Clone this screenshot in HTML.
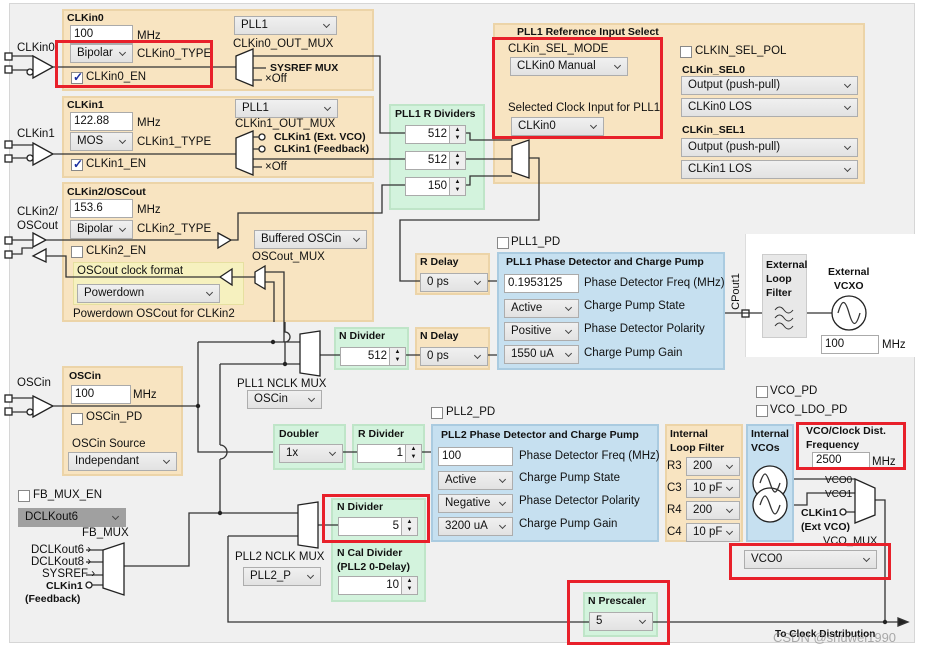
<!DOCTYPE html>
<html><head><meta charset="utf-8">
<style>
*{box-sizing:border-box;margin:0;padding:0}
body{width:937px;height:655px;background:#fff;position:relative;overflow:hidden;font-family:"Liberation Sans",Arial,sans-serif;font-size:11.5px;color:#111}
div,span{position:absolute}
.bg{left:9px;top:3px;width:906px;height:640px;background:#f0f0f0;border:1px solid #d6d6d6}
.p{background:#f8e4c1;border:2px solid #ecd4a8}
.g{background:#d3f3dd;border:2px solid #bfe5c8}
.b{background:#c6e0f0;border:2px solid #aacbe0}
.y{background:#f6f1bf;border:1px solid #e6e0a0}
.t{white-space:nowrap;line-height:13px}
.bo{font-weight:bold;font-size:10.5px}
.in{background:#fff;border:1px solid #aaa;height:19px;padding:1px 3px;line-height:15px;white-space:nowrap}
.dd{background:linear-gradient(#f0f0f0,#e2e2e2);border:1px solid #adadad;height:19px;padding:1px 6px;line-height:15px;white-space:nowrap;overflow:hidden}
.dd::after{content:"";position:absolute;right:7px;top:5px;width:4px;height:4px;border-right:1px solid #444;border-bottom:1px solid #444;transform:rotate(45deg)}
.sp{background:#fff;border:1px solid #aaa;height:19px;line-height:15px;text-align:right;padding:1px 18px 0 3px}
.sp::after{content:"▲\A▼";white-space:pre;position:absolute;right:0;top:0;width:15px;height:17px;border-left:1px solid #aaa;background:#eee;font-size:6px;line-height:8px;text-align:center}
.cb{width:12px;height:12px;background:#fff;border:1px solid #888}
.ck::after{content:"✓";position:absolute;left:1px;top:-3px;color:#1a2ea0;font-weight:bold;font-size:12px}
.red{border:3px solid #e8202a}
</style></head><body>
<div class="bg"></div>
<div style="left:745px;top:234px;width:170px;height:123px;background:#fff;border-left:1px solid #ddd"></div>

<div class="p" style="left:62px;top:9px;width:312px;height:82px"></div>
<div class="p" style="left:62px;top:96px;width:312px;height:82px"></div>
<div class="p" style="left:62px;top:182px;width:312px;height:140px"></div>
<div class="y" style="left:73px;top:262px;width:171px;height:43px"></div>
<div class="g" style="left:389px;top:104px;width:96px;height:106px"></div>
<div class="p" style="left:493px;top:23px;width:372px;height:161px"></div>
<div class="p" style="left:415px;top:253px;width:75px;height:42px"></div>
<div class="b" style="left:497px;top:252px;width:228px;height:118px"></div>
<div class="g" style="left:334px;top:327px;width:75px;height:43px"></div>
<div class="p" style="left:415px;top:327px;width:75px;height:43px"></div>
<div style="left:762px;top:254px;width:45px;height:84px;background:#e8e8e8;border:1px solid #ccc"></div>
<div class="p" style="left:62px;top:366px;width:121px;height:110px"></div>
<div class="g" style="left:273px;top:424px;width:73px;height:46px"></div>
<div class="g" style="left:352px;top:424px;width:73px;height:46px"></div>
<div class="b" style="left:431px;top:424px;width:228px;height:118px"></div>
<div class="p" style="left:665px;top:424px;width:78px;height:118px"></div>
<div class="b" style="left:746px;top:424px;width:48px;height:118px"></div>
<div class="g" style="left:331px;top:498px;width:95px;height:104px"></div>
<div class="g" style="left:583px;top:592px;width:75px;height:45px"></div>

<svg width="937" height="655" style="position:absolute;left:0;top:0" fill="none" stroke="#333" stroke-width="1.3">
<g fill="#fff" stroke="#222">
<rect x="5" y="53" width="7" height="7"/><rect x="5" y="66" width="7" height="7"/>
<rect x="5" y="141" width="7" height="7"/><rect x="5" y="155" width="7" height="7"/>
<rect x="5" y="237" width="7" height="7"/><rect x="5" y="251" width="7" height="7"/>
<rect x="5" y="395" width="7" height="7"/><rect x="5" y="408" width="7" height="7"/>
<rect x="742" y="310" width="7" height="7"/>
</g>
<path d="M12 56H33M12 70H28M12 145H33M12 158H28M12 240H33M12 254H22V248H33M12 398H33M12 412H28"/>
<g fill="#fff" stroke="#222">
<path d="M33 56L53 67L33 78Z"/><circle cx="30" cy="72" r="3"/>
<path d="M33 143L53 154L33 165Z"/><circle cx="30" cy="158" r="3"/>
<path d="M33 233L46 240L33 247Z"/><path d="M46 249L33 256L46 262Z"/>
<path d="M33 396L53 406L33 417Z"/><circle cx="30" cy="412" r="3"/>
<path d="M218 233L231 240L218 248Z"/><path d="M232 269L220 277L232 285Z"/>
</g>
<path d="M53 67H236M253 56H380V133H405M53 154H236M253 159H405M46 240H218M231 240H238V213H382V185H405M46 256H66V277H220M232 277H255M265 272H284V342M265 282H274V322"/>
<path d="M461 133H470V140H512M461 159H512M461 185H470V176H512M529 158H539V220H400V281H420M488 281H497"/>
<path d="M725 313H762M807 313H832"/>
<path d="M320 355H340M406 355H420M488 355H497"/>
<path d="M53 406H198M198 342V452H273M198 342H300M220 364H300M220 364V445M220 459V513M343 452H357M422 452H431"/>
<path d="M220 445A7 7 0 0 1 220 459"/>
<path d="M285 322V332A5 5 0 0 1 285 342V364"/>
<path d="M124 566H189V513H300M318 525H338M228 536H298M228 536V622H905M875 500H885V622M794 479H855M794 505H807V493H855M846 512H855"/>
<path d="M86 550H103M86 562H103M86 575H103M92 585H103"/>
<path d="M898 618L908 622L898 626Z" fill="#222"/>
<g fill="#222" stroke="none"><circle cx="198" cy="406" r="2.2"/><circle cx="273" cy="342" r="2.2"/><circle cx="285" cy="364" r="2.2"/><circle cx="220" cy="513" r="2.2"/><circle cx="885" cy="622" r="2.2"/></g>
<g fill="#fff" stroke="#222">
<path d="M236 56L253 49V86L236 79Z"/>
<path d="M236 138L253 131V175L236 168Z"/>
<path d="M255 272L265 266V289L255 283Z"/>
<path d="M512 146L529 140V178L512 172Z"/>
<path d="M300 334L320 331V376L300 373Z"/>
<path d="M103 550L124 543V595L103 588Z"/>
<path d="M298 505L318 502V548L298 545Z"/>
<path d="M855 479L875 488V515L855 523Z"/>
<circle cx="849" cy="313" r="17"/>
<circle cx="770" cy="483" r="17"/><circle cx="770" cy="505" r="17"/>
<circle cx="262" cy="137" r="3"/><circle cx="262" cy="149" r="3"/><circle cx="89" cy="585" r="3"/><circle cx="843" cy="512" r="3"/>
</g>
<path d="M253 68H266M253 80H262M253 137H259M253 149H259M253 167H262"/>
<path d="M838 313c4-14 7-14 11 0s7 14 11 0M760 483c4-12 6-12 10 0s6 12 10 0M760 505c4-12 6-12 10 0s6 12 10 0"/>
<path d="M775 310c3-4 6-4 9 0s6 4 9 0M775 318c3-4 6-4 9 0s6 4 9 0M775 326c3-4 6-4 9 0s6 4 9 0" stroke-width="1"/>
</svg>

<span class="t" style="left:17px;top:42px">CLKin0</span>
<span class="t bo" style="left:67px;top:12px">CLKin0</span>
<div class="in" style="left:70px;top:25px;width:63px">100</div><span class="t" style="left:137px;top:30px">MHz</span>
<div class="dd" style="left:70px;top:44px;width:63px">Bipolar</div><span class="t" style="left:137px;top:48px">CLKin0_TYPE</span>
<div class="cb ck" style="left:71px;top:72px"></div><span class="t" style="left:86px;top:71px">CLKin0_EN</span>
<div class="dd" style="left:234px;top:16px;width:103px">PLL1</div><span class="t" style="left:233px;top:38px">CLKin0_OUT_MUX</span>
<span class="t bo" style="left:270px;top:62px">SYSREF MUX</span><span class="t" style="left:265px;top:73px">×Off</span>
<span class="t" style="left:17px;top:128px">CLKin1</span>
<span class="t bo" style="left:67px;top:99px">CLKin1</span>
<div class="in" style="left:70px;top:112px;width:63px">122.88</div><span class="t" style="left:137px;top:117px">MHz</span>
<div class="dd" style="left:70px;top:132px;width:63px">MOS</div><span class="t" style="left:137px;top:136px">CLKin1_TYPE</span>
<div class="cb ck" style="left:71px;top:159px"></div><span class="t" style="left:86px;top:158px">CLKin1_EN</span>
<div class="dd" style="left:235px;top:99px;width:103px">PLL1</div><span class="t" style="left:235px;top:118px">CLKin1_OUT_MUX</span>
<span class="t bo" style="left:274px;top:131px">CLKin1 (Ext. VCO)</span><span class="t bo" style="left:274px;top:143px">CLKin1 (Feedback)</span><span class="t" style="left:265px;top:161px">×Off</span>
<span class="t" style="left:17px;top:206px">CLKin2/</span><span class="t" style="left:17px;top:220px">OSCout</span>
<span class="t bo" style="left:67px;top:186px">CLKin2/OSCout</span>
<div class="in" style="left:70px;top:199px;width:63px">153.6</div><span class="t" style="left:137px;top:204px">MHz</span>
<div class="dd" style="left:70px;top:220px;width:63px">Bipolar</div><span class="t" style="left:137px;top:223px">CLKin2_TYPE</span>
<div class="cb" style="left:71px;top:246px"></div><span class="t" style="left:86px;top:245px">CLKin2_EN</span>
<div class="dd" style="left:254px;top:230px;width:113px">Buffered OSCin</div><span class="t" style="left:252px;top:251px">OSCout_MUX</span>
<span class="t" style="left:77px;top:265px">OSCout clock format</span>
<div class="dd" style="left:77px;top:284px;width:143px">Powerdown</div>
<span class="t" style="left:73px;top:308px">Powerdown OSCout for CLKin2</span>
<span class="t bo" style="left:395px;top:108px">PLL1 R Dividers</span>
<div class="sp" style="left:405px;top:125px;width:61px">512</div>
<div class="sp" style="left:405px;top:151px;width:61px">512</div>
<div class="sp" style="left:405px;top:177px;width:61px">150</div>
<span class="t bo" style="left:517px;top:26px">PLL1 Reference Input Select</span>
<span class="t" style="left:508px;top:43px">CLKin_SEL_MODE</span>
<div class="dd" style="left:510px;top:57px;width:118px">CLKin0 Manual</div>
<span class="t" style="left:508px;top:102px">Selected Clock Input for PLL1</span>
<div class="dd" style="left:511px;top:117px;width:93px">CLKin0</div>
<div class="cb" style="left:680px;top:46px"></div><span class="t" style="left:695px;top:45px">CLKIN_SEL_POL</span>
<span class="t bo" style="left:682px;top:64px">CLKin_SEL0</span>
<div class="dd" style="left:681px;top:76px;width:177px">Output (push-pull)</div>
<div class="dd" style="left:681px;top:98px;width:177px">CLKin0 LOS</div>
<span class="t bo" style="left:682px;top:124px">CLKin_SEL1</span>
<div class="dd" style="left:681px;top:138px;width:177px">Output (push-pull)</div>
<div class="dd" style="left:681px;top:160px;width:177px">CLKin1 LOS</div>
<span class="t bo" style="left:420px;top:256px">R Delay</span>
<div class="dd" style="left:420px;top:273px;width:68px">0 ps</div>
<div class="cb" style="left:497px;top:237px"></div><span class="t" style="left:511px;top:236px">PLL1_PD</span>
<span class="t bo" style="left:506px;top:256px">PLL1 Phase Detector and Charge Pump</span>
<div class="in" style="left:504px;top:274px;width:75px">0.1953125</div>
<span class="t" style="left:584px;top:277px">Phase Detector Freq (MHz)</span>
<div class="dd" style="left:504px;top:299px;width:75px">Active</div><span class="t" style="left:584px;top:300px">Charge Pump State</span>
<div class="dd" style="left:504px;top:322px;width:75px">Positive</div><span class="t" style="left:584px;top:323px">Phase Detector Polarity</span>
<div class="dd" style="left:504px;top:345px;width:75px">1550 uA</div><span class="t" style="left:584px;top:347px">Charge Pump Gain</span>
<span class="t" style="left:718px;top:285px;transform:rotate(-90deg);font-size:11px">CPout1</span>
<span class="t bo" style="left:766px;top:258px;line-height:14px">External<br>Loop<br>Filter</span>
<span class="t bo" style="left:828px;top:265px;line-height:14px;text-align:center">External<br>VCXO</span>
<div class="in" style="left:821px;top:335px;width:58px">100</div><span class="t" style="left:882px;top:339px">MHz</span>
<span class="t bo" style="left:339px;top:330px">N Divider</span>
<div class="sp" style="left:340px;top:347px;width:66px">512</div>
<span class="t bo" style="left:420px;top:330px">N Delay</span>
<div class="dd" style="left:420px;top:347px;width:68px">0 ps</div>
<span class="t" style="left:237px;top:378px">PLL1 NCLK MUX</span>
<div class="dd" style="left:247px;top:390px;width:75px">OSCin</div>
<span class="t" style="left:17px;top:377px">OSCin</span>
<span class="t bo" style="left:69px;top:370px">OSCin</span>
<div class="in" style="left:71px;top:385px;width:60px">100</div><span class="t" style="left:133px;top:389px">MHz</span>
<div class="cb" style="left:71px;top:413px"></div><span class="t" style="left:86px;top:411px">OSCin_PD</span>
<span class="t" style="left:72px;top:438px">OSCin Source</span>
<div class="dd" style="left:68px;top:452px;width:109px">Independant</div>
<div class="cb" style="left:18px;top:490px"></div><span class="t" style="left:33px;top:489px">FB_MUX_EN</span>
<div class="dd" style="left:18px;top:508px;width:108px;background:#a0a0a0;border-color:#a0a0a0">DCLKout6</div>
<span class="t" style="left:82px;top:527px">FB_MUX</span>
<span class="t" style="left:31px;top:544px">DCLKout6 ›</span>
<span class="t" style="left:31px;top:556px">DCLKout8 ›</span>
<span class="t" style="left:42px;top:568px">SYSREF ›</span>
<span class="t bo" style="left:46px;top:580px">CLKin1</span>
<span class="t bo" style="left:25px;top:593px">(Feedback)</span>
<span class="t bo" style="left:279px;top:428px">Doubler</span>
<div class="dd" style="left:279px;top:444px;width:64px">1x</div>
<span class="t bo" style="left:358px;top:428px">R Divider</span>
<div class="sp" style="left:357px;top:444px;width:65px">1</div>
<div class="cb" style="left:431px;top:407px"></div><span class="t" style="left:446px;top:406px">PLL2_PD</span>
<span class="t bo" style="left:441px;top:429px">PLL2 Phase Detector and Charge Pump</span>
<div class="in" style="left:438px;top:447px;width:75px">100</div><span class="t" style="left:519px;top:450px">Phase Detector Freq (MHz)</span>
<div class="dd" style="left:438px;top:471px;width:75px">Active</div><span class="t" style="left:519px;top:472px">Charge Pump State</span>
<div class="dd" style="left:438px;top:494px;width:75px">Negative</div><span class="t" style="left:519px;top:495px">Phase Detector Polarity</span>
<div class="dd" style="left:438px;top:517px;width:75px">3200 uA</div><span class="t" style="left:519px;top:518px">Charge Pump Gain</span>
<span class="t bo" style="left:670px;top:427px;line-height:14px">Internal<br>Loop Filter</span>
<span class="t" style="left:667px;top:460px">R3</span><div class="dd" style="left:686px;top:457px;width:54px">200</div>
<span class="t" style="left:667px;top:482px">C3</span><div class="dd" style="left:686px;top:479px;width:54px">10 pF</div>
<span class="t" style="left:667px;top:504px">R4</span><div class="dd" style="left:686px;top:501px;width:54px">200</div>
<span class="t" style="left:667px;top:526px">C4</span><div class="dd" style="left:686px;top:523px;width:54px">10 pF</div>
<span class="t bo" style="left:751px;top:427px;line-height:14px">Internal<br>VCOs</span>
<div class="cb" style="left:756px;top:386px"></div><span class="t" style="left:770px;top:385px">VCO_PD</span>
<div class="cb" style="left:756px;top:405px"></div><span class="t" style="left:770px;top:404px">VCO_LDO_PD</span>
<span class="t bo" style="left:806px;top:424px;line-height:14px">VCO/Clock Dist.<br>Frequency</span>
<div class="in" style="left:812px;top:452px;width:58px;height:17px;line-height:13px">2500</div><span class="t" style="left:872px;top:456px">MHz</span>
<span class="t" style="left:825px;top:474px;font-size:10px">VCO0</span>
<span class="t" style="left:825px;top:488px;font-size:10px">VCO1</span>
<span class="t bo" style="left:801px;top:507px">CLKin1</span>
<span class="t bo" style="left:801px;top:521px">(Ext VCO)</span>
<span class="t" style="left:823px;top:535px;font-size:11px">VCO_MUX</span>
<div class="dd" style="left:744px;top:550px;width:133px">VCO0</div>
<span class="t bo" style="left:337px;top:501px">N Divider</span>
<div class="sp" style="left:338px;top:517px;width:80px">5</div>
<span class="t bo" style="left:337px;top:546px;line-height:14px">N Cal Divider<br>(PLL2 0-Delay)</span>
<div class="sp" style="left:338px;top:576px;width:80px">10</div>
<span class="t" style="left:235px;top:551px">PLL2 NCLK MUX</span>
<div class="dd" style="left:243px;top:567px;width:78px">PLL2_P</div>
<span class="t bo" style="left:588px;top:595px">N Prescaler</span>
<div class="dd" style="left:589px;top:612px;width:64px">5</div>
<span class="t bo" style="left:775px;top:628px;font-size:10px">To Clock Distribution</span>
<span class="t" style="left:773px;top:631px;font-size:13px;color:rgba(120,120,120,.6)">CSDN @shuwei1990</span>

<div class="red" style="left:55px;top:40px;width:158px;height:48px"></div>
<div class="red" style="left:492px;top:37px;width:171px;height:102px"></div>
<div class="red" style="left:322px;top:494px;width:108px;height:49px"></div>
<div class="red" style="left:796px;top:422px;width:110px;height:48px"></div>
<div class="red" style="left:729px;top:543px;width:162px;height:37px"></div>
<div class="red" style="left:567px;top:580px;width:103px;height:65px"></div>
</body></html>
